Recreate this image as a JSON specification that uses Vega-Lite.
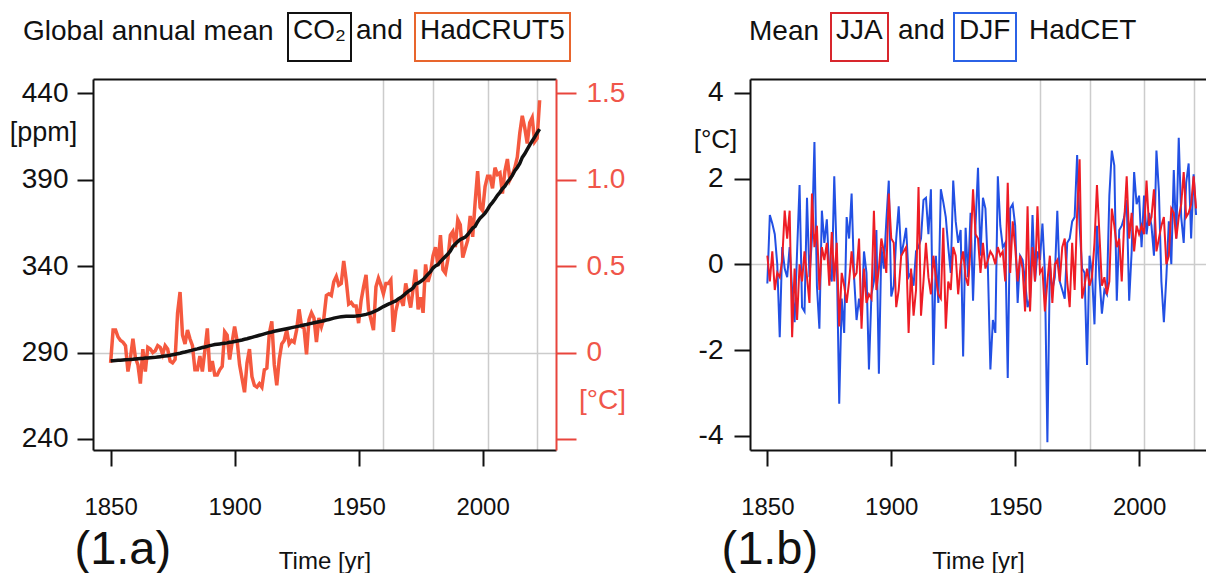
{
"$schema": "https://vega.github.io/schema/vega-lite/v6.json",
"background": "white",
"padding": {"left": 9, "top": 12, "right": 0, "bottom": 0},
"autosize": {"type": "pad"},
"config": {"font": "Liberation Sans", "view": {"stroke": null},
 "legend": {"title": null, "orient": "none", "legendY": -66, "padding": 5, "cornerRadius": 0, "labelFontSize": 28, "labelColor": "#111", "labelOffset": -38, "labelLimit": 500, "symbolType": "M0,-1L0,1", "symbolSize": 1444, "symbolStrokeWidth": 0, "symbolOpacity": 0}},
"spacing": 194,
"bounds": "flush",
"resolve": {"scale": {"stroke": "independent", "opacity": "independent"}, "legend": {"stroke": "independent", "opacity": "independent"}},
"hconcat": [
{
"width": 463, "height": 371,
"title": {"text": "Global annual mean", "anchor": "start", "frame": "group", "dx": -70, "fontSize": 28, "fontWeight": "normal", "color": "#111", "baseline": "alphabetic", "offset": -56},
"data": {"values": [
{"year":1850,"co2":285.2,"t":-0.06},{"year":1851,"co2":285.3,"t":0.13},{"year":1852,"co2":285.4,"t":0.13},{"year":1853,"co2":285.5,"t":0.09},{"year":1854,"co2":285.6,"t":0.07},{"year":1855,"co2":285.7,"t":0.06},{"year":1856,"co2":285.8,"t":0.04},{"year":1857,"co2":285.9,"t":-0.11},{"year":1858,"co2":286.0,"t":-0.03},{"year":1859,"co2":286.1,"t":0.08},
{"year":1860,"co2":286.3,"t":-0.03},{"year":1861,"co2":286.4,"t":-0.07},{"year":1862,"co2":286.5,"t":-0.18},{"year":1863,"co2":286.6,"t":0.02},{"year":1864,"co2":286.8,"t":-0.11},{"year":1865,"co2":286.9,"t":0.03},{"year":1866,"co2":287.0,"t":0.02},{"year":1867,"co2":287.1,"t":0.00},{"year":1868,"co2":287.2,"t":0.01},{"year":1869,"co2":287.4,"t":0.04},
{"year":1870,"co2":287.6,"t":0.03},{"year":1871,"co2":287.8,"t":-0.01},{"year":1872,"co2":288.0,"t":0.04},{"year":1873,"co2":288.2,"t":0.02},{"year":1874,"co2":288.4,"t":-0.05},{"year":1875,"co2":288.7,"t":-0.06},{"year":1876,"co2":289.0,"t":-0.04},{"year":1877,"co2":289.3,"t":0.23},{"year":1878,"co2":289.6,"t":0.35},{"year":1879,"co2":290.0,"t":0.10},
{"year":1880,"co2":290.3,"t":0.05},{"year":1881,"co2":290.7,"t":0.13},{"year":1882,"co2":291.0,"t":0.08},{"year":1883,"co2":291.4,"t":0.04},{"year":1884,"co2":291.8,"t":-0.10},{"year":1885,"co2":292.1,"t":-0.10},{"year":1886,"co2":292.5,"t":-0.02},{"year":1887,"co2":292.9,"t":-0.11},{"year":1888,"co2":293.2,"t":0.01},{"year":1889,"co2":293.6,"t":0.14},
{"year":1890,"co2":294.0,"t":-0.11},{"year":1891,"co2":294.3,"t":-0.05},{"year":1892,"co2":294.6,"t":-0.13},{"year":1893,"co2":294.8,"t":-0.13},{"year":1894,"co2":295.0,"t":-0.10},{"year":1895,"co2":295.2,"t":-0.08},{"year":1896,"co2":295.4,"t":0.12},{"year":1897,"co2":295.6,"t":0.10},{"year":1898,"co2":295.9,"t":-0.04},{"year":1899,"co2":296.1,"t":0.06},
{"year":1900,"co2":296.4,"t":0.15},{"year":1901,"co2":296.7,"t":0.07},{"year":1902,"co2":297.0,"t":-0.07},{"year":1903,"co2":297.3,"t":-0.15},{"year":1904,"co2":297.7,"t":-0.23},{"year":1905,"co2":298.0,"t":-0.06},{"year":1906,"co2":298.4,"t":0.02},{"year":1907,"co2":298.8,"t":-0.14},{"year":1908,"co2":299.2,"t":-0.19},{"year":1909,"co2":299.6,"t":-0.20},
{"year":1910,"co2":300.0,"t":-0.18},{"year":1911,"co2":300.4,"t":-0.20},{"year":1912,"co2":300.8,"t":-0.10},{"year":1913,"co2":301.2,"t":-0.09},{"year":1914,"co2":301.6,"t":0.11},{"year":1915,"co2":301.9,"t":0.18},{"year":1916,"co2":302.3,"t":-0.07},{"year":1917,"co2":302.6,"t":-0.19},{"year":1918,"co2":302.9,"t":-0.04},{"year":1919,"co2":303.2,"t":0.05},
{"year":1920,"co2":303.5,"t":0.07},{"year":1921,"co2":303.8,"t":0.13},{"year":1922,"co2":304.1,"t":0.05},{"year":1923,"co2":304.4,"t":0.07},{"year":1924,"co2":304.7,"t":0.06},{"year":1925,"co2":305.0,"t":0.13},{"year":1926,"co2":305.3,"t":0.25},{"year":1927,"co2":305.6,"t":0.15},{"year":1928,"co2":305.9,"t":0.14},{"year":1929,"co2":306.2,"t":-0.01},
{"year":1930,"co2":306.6,"t":0.19},{"year":1931,"co2":306.9,"t":0.23},{"year":1932,"co2":307.2,"t":0.20},{"year":1933,"co2":307.5,"t":0.06},{"year":1934,"co2":307.8,"t":0.20},{"year":1935,"co2":308.1,"t":0.15},{"year":1936,"co2":308.4,"t":0.20},{"year":1937,"co2":308.8,"t":0.33},{"year":1938,"co2":309.1,"t":0.34},{"year":1939,"co2":309.5,"t":0.33},
{"year":1940,"co2":309.9,"t":0.41},{"year":1941,"co2":310.2,"t":0.44},{"year":1942,"co2":310.5,"t":0.39},{"year":1943,"co2":310.7,"t":0.40},{"year":1944,"co2":310.9,"t":0.53},{"year":1945,"co2":311.0,"t":0.42},{"year":1946,"co2":311.0,"t":0.28},{"year":1947,"co2":311.0,"t":0.29},{"year":1948,"co2":311.0,"t":0.27},{"year":1949,"co2":311.1,"t":0.27},
{"year":1950,"co2":311.3,"t":0.17},{"year":1951,"co2":311.5,"t":0.30},{"year":1952,"co2":311.8,"t":0.38},{"year":1953,"co2":312.1,"t":0.45},{"year":1954,"co2":312.5,"t":0.25},{"year":1955,"co2":313.0,"t":0.19},{"year":1956,"co2":313.6,"t":0.13},{"year":1957,"co2":314.2,"t":0.38},{"year":1958,"co2":314.9,"t":0.43},{"year":1959,"co2":315.8,"t":0.39},
{"year":1960,"co2":316.6,"t":0.34},{"year":1961,"co2":317.3,"t":0.40},{"year":1962,"co2":318.0,"t":0.40},{"year":1963,"co2":318.6,"t":0.42},{"year":1964,"co2":319.3,"t":0.12},{"year":1965,"co2":319.9,"t":0.24},{"year":1966,"co2":321.0,"t":0.30},{"year":1967,"co2":321.8,"t":0.31},{"year":1968,"co2":322.9,"t":0.27},{"year":1969,"co2":324.2,"t":0.40},
{"year":1970,"co2":325.4,"t":0.33},{"year":1971,"co2":326.3,"t":0.26},{"year":1972,"co2":327.5,"t":0.37},{"year":1973,"co2":329.7,"t":0.48},{"year":1974,"co2":330.2,"t":0.25},{"year":1975,"co2":331.1,"t":0.32},{"year":1976,"co2":332.1,"t":0.23},{"year":1977,"co2":333.8,"t":0.51},{"year":1978,"co2":335.4,"t":0.41},{"year":1979,"co2":336.8,"t":0.46},
{"year":1980,"co2":338.9,"t":0.56},{"year":1981,"co2":340.1,"t":0.61},{"year":1982,"co2":340.9,"t":0.50},{"year":1983,"co2":342.6,"t":0.68},{"year":1984,"co2":344.1,"t":0.48},{"year":1985,"co2":345.6,"t":0.46},{"year":1986,"co2":347.0,"t":0.54},{"year":1987,"co2":348.8,"t":0.68},{"year":1988,"co2":351.3,"t":0.70},{"year":1989,"co2":352.8,"t":0.61},
{"year":1990,"co2":354.2,"t":0.77},{"year":1991,"co2":355.4,"t":0.74},{"year":1992,"co2":356.1,"t":0.55},{"year":1993,"co2":356.8,"t":0.60},{"year":1994,"co2":358.3,"t":0.65},{"year":1995,"co2":360.2,"t":0.79},{"year":1996,"co2":362.0,"t":0.67},{"year":1997,"co2":363.0,"t":0.87},{"year":1998,"co2":365.7,"t":1.05},{"year":1999,"co2":367.8,"t":0.84},
{"year":2000,"co2":369.1,"t":0.82},{"year":2001,"co2":370.7,"t":0.96},{"year":2002,"co2":372.8,"t":1.02},{"year":2003,"co2":375.2,"t":1.02},{"year":2004,"co2":376.9,"t":0.95},{"year":2005,"co2":378.9,"t":1.07},{"year":2006,"co2":381.0,"t":1.03},{"year":2007,"co2":382.7,"t":1.04},{"year":2008,"co2":384.8,"t":0.92},{"year":2009,"co2":386.3,"t":1.05},
{"year":2010,"co2":388.6,"t":1.12},{"year":2011,"co2":390.4,"t":1.00},{"year":2012,"co2":392.5,"t":1.03},{"year":2013,"co2":395.2,"t":1.07},{"year":2014,"co2":397.1,"t":1.13},{"year":2015,"co2":399.4,"t":1.27},{"year":2016,"co2":402.9,"t":1.37},{"year":2017,"co2":405.0,"t":1.30},{"year":2018,"co2":407.6,"t":1.21},{"year":2019,"co2":410.1,"t":1.33},
{"year":2020,"co2":412.4,"t":1.36},{"year":2021,"co2":414.7,"t":1.22},{"year":2022,"co2":417.1,"t":1.24},{"year":2023,"co2":419.3,"t":1.46}
]},
"layer": [
{
"mark": {"type": "line", "strokeWidth": 3.5},
"encoding": {
"x": {"field": "year", "type": "quantitative", "scale": {"domain": [1842.9, 2029.6], "nice": false, "zero": false},
 "axis": {"orient": "top", "values": [1960, 1980, 2002, 2022], "grid": true, "gridColor": "#cccccc", "gridWidth": 1.5, "ticks": false, "labels": false, "domainColor": "#111", "domainWidth": 2, "title": "(1.a)", "titleFontSize": 47, "titleFontWeight": "normal", "titleColor": "#111", "titleX": -19, "titleY": 484, "titleAlign": "left", "titleBaseline": "alphabetic", "titleAngle": 0}},
"y": {"field": "t", "type": "quantitative", "scale": {"domain": [-0.564, 1.583], "nice": false, "zero": false},
 "axis": {"orient": "right", "values": [-0.5, 0, 0.5, 1, 1.5], "labelExpr": "datum.value < 0 ? '' : (datum.value == 0 ? '0' : format(datum.value, '.1f'))", "grid": true, "gridColor": "#cccccc", "gridWidth": 1.5, "gridOpacity": {"condition": {"test": "datum.value == 0", "value": 1}, "value": 0}, "domainColor": "#e8453c", "domainWidth": 2, "tickColor": "#e8453c", "tickWidth": 2, "tickSize": 20, "labelFontSize": 28, "labelColor": "#f0564a", "labelPadding": 10, "labelFlush": false, "labelOverlap": false, "title": "[°C]", "titleFontSize": 28, "titleFontWeight": "normal", "titleColor": "#f0564a", "titleAngle": 0, "titleX": 46, "titleY": 321, "titleAlign": "center", "titleBaseline": "middle"}},
"stroke": {"datum": "HadCRUT5", "scale": {"range": ["#f5593f"]},
 "legend": {"legendX": 322, "strokeColor": "#e8652d", "encode": {"legend": {"update": {"strokeWidth": {"value": 2}}}, "labels": {"update": {"dy": {"value": -6}}}}}},
"opacity": {"datum": "and", "type": "ordinal", "scale": {"range": [1]},
 "legend": {"legendX": 263, "legendY": -63, "padding": 0, "symbolSize": 900, "labelOffset": -30}}
}
},
{
"mark": {"type": "line", "strokeWidth": 3.5},
"encoding": {
"x": {"field": "year", "type": "quantitative", "scale": {"domain": [1842.9, 2029.6], "nice": false, "zero": false},
 "axis": {"orient": "bottom", "values": [1850, 1900, 1950, 2000], "grid": false, "domainColor": "#111", "domainWidth": 2, "tickColor": "#111", "tickWidth": 2, "tickSize": 16, "labelFontSize": 24, "labelColor": "#111", "labelPadding": 29, "labelFlush": false, "labelOverlap": false, "format": "d", "title": "Time [yr]", "titleFontSize": 24, "titleFontWeight": "normal", "titleColor": "#111", "titleY": 118, "titleBaseline": "alphabetic"}},
"y": {"field": "co2", "type": "quantitative", "scale": {"domain": [233.6, 448.3], "nice": false, "zero": false},
 "axis": {"orient": "left", "values": [240, 290, 340, 390, 440], "grid": false, "domainColor": "#111", "domainWidth": 2, "tickColor": "#111", "tickWidth": 2, "tickSize": 16, "labelFontSize": 28, "labelColor": "#111", "labelPadding": 9, "labelFlush": false, "labelOverlap": false, "title": "[ppm]", "titleFontSize": 27, "titleFontWeight": "normal", "titleColor": "#111", "titleAngle": 0, "titleX": -50, "titleY": 53, "titleAlign": "center", "titleBaseline": "middle"}},
"stroke": {"datum": "CO₂", "scale": {"range": ["#111111"]},
 "legend": {"legendX": 195, "strokeColor": "#111", "encode": {"legend": {"update": {"strokeWidth": {"value": 2}}}, "labels": {"update": {"dy": {"value": -6}}}}}}
}
}
],
"resolve": {"scale": {"y": "independent", "stroke": "independent", "opacity": "independent"}, "axis": {"x": "independent", "y": "independent"}, "legend": {"stroke": "independent", "opacity": "independent"}}
},
{
"width": 456, "height": 371,
"title": {"text": "Mean", "anchor": "start", "frame": "group", "dx": -1, "fontSize": 28, "fontWeight": "normal", "color": "#111", "baseline": "alphabetic", "offset": -56},
"data": {"values": [
{"year":1850,"jja":0.2,"djf":-0.45},{"year":1851,"jja":-0.4,"djf":1.15},{"year":1852,"jja":0.3,"djf":0.95},{"year":1853,"jja":-0.6,"djf":0.7},{"year":1854,"jja":-0.2,"djf":0.0},{"year":1855,"jja":-0.3,"djf":-1.7},{"year":1856,"jja":0.1,"djf":0.4},{"year":1857,"jja":1.25,"djf":-0.1},{"year":1858,"jja":0.6,"djf":-0.3},{"year":1859,"jja":1.25,"djf":0.4},
{"year":1860,"jja":-1.7,"djf":-0.6},{"year":1861,"jja":-0.1,"djf":-1.35},{"year":1862,"jja":-1.3,"djf":0.3},{"year":1863,"jja":0.0,"djf":1.85},{"year":1864,"jja":-0.4,"djf":-1.0},{"year":1865,"jja":0.3,"djf":-1.1},{"year":1866,"jja":-0.3,"djf":1.55},{"year":1867,"jja":-0.9,"djf":-0.3},{"year":1868,"jja":1.65,"djf":0.6},{"year":1869,"jja":0.4,"djf":2.85},
{"year":1870,"jja":0.9,"djf":-0.5},{"year":1871,"jja":-0.6,"djf":-1.5},{"year":1872,"jja":0.4,"djf":1.25},{"year":1873,"jja":0.1,"djf":0.5},{"year":1874,"jja":0.5,"djf":1.05},{"year":1875,"jja":-0.5,"djf":-0.2},{"year":1876,"jja":0.75,"djf":-0.4},{"year":1877,"jja":-0.4,"djf":2.05},{"year":1878,"jja":0.5,"djf":0.2},{"year":1879,"jja":-1.45,"djf":-3.25},
{"year":1880,"jja":-0.2,"djf":-0.8},{"year":1881,"jja":-0.5,"djf":-1.6},{"year":1882,"jja":-0.9,"djf":1.1},{"year":1883,"jja":-0.4,"djf":0.6},{"year":1884,"jja":0.3,"djf":1.65},{"year":1885,"jja":-0.3,"djf":-0.3},{"year":1886,"jja":-0.2,"djf":-1.3},{"year":1887,"jja":0.6,"djf":-0.8},{"year":1888,"jja":-1.5,"djf":-1.2},{"year":1889,"jja":-0.1,"djf":0.3},
{"year":1890,"jja":-0.9,"djf":-0.2},{"year":1891,"jja":-0.7,"djf":-2.45},{"year":1892,"jja":-0.8,"djf":-0.7},{"year":1893,"jja":1.25,"djf":-0.4},{"year":1894,"jja":-0.6,"djf":0.8},{"year":1895,"jja":-0.1,"djf":-2.55},{"year":1896,"jja":0.6,"djf":0.4},{"year":1897,"jja":0.3,"djf":-0.1},{"year":1898,"jja":-0.2,"djf":1.0},{"year":1899,"jja":1.65,"djf":1.95},
{"year":1900,"jja":0.6,"djf":-0.75},{"year":1901,"jja":0.5,"djf":-0.5},{"year":1902,"jja":-1.0,"djf":0.6},{"year":1903,"jja":-0.6,"djf":1.35},{"year":1904,"jja":0.2,"djf":0.2},{"year":1905,"jja":0.3,"djf":0.5},{"year":1906,"jja":0.4,"djf":0.85},{"year":1907,"jja":-1.6,"djf":-0.3},{"year":1908,"jja":-0.1,"djf":-0.2},{"year":1909,"jja":-1.2,"djf":-0.5},
{"year":1910,"jja":-0.6,"djf":0.3},{"year":1911,"jja":1.8,"djf":0.4},{"year":1912,"jja":-1.2,"djf":0.6},{"year":1913,"jja":-0.4,"djf":1.5},{"year":1914,"jja":0.5,"djf":1.55},{"year":1915,"jja":-0.3,"djf":0.7},{"year":1916,"jja":-0.7,"djf":1.75},{"year":1917,"jja":0.2,"djf":-2.35},{"year":1918,"jja":-0.3,"djf":0.2},{"year":1919,"jja":-0.7,"djf":-0.9},
{"year":1920,"jja":-0.8,"djf":1.75},{"year":1921,"jja":0.85,"djf":1.45},{"year":1922,"jja":-1.5,"djf":1.1},{"year":1923,"jja":-0.4,"djf":0.4},{"year":1924,"jja":-0.6,"djf":-0.2},{"year":1925,"jja":0.4,"djf":1.95},{"year":1926,"jja":0.2,"djf":1.0},{"year":1927,"jja":-0.7,"djf":0.5},{"year":1928,"jja":0.0,"djf":0.8},{"year":1929,"jja":0.3,"djf":-2.15},
{"year":1930,"jja":-0.3,"djf":0.85},{"year":1931,"jja":-0.5,"djf":-0.3},{"year":1932,"jja":0.4,"djf":1.2},{"year":1933,"jja":1.75,"djf":-0.85},{"year":1934,"jja":0.7,"djf":0.9},{"year":1935,"jja":0.6,"djf":2.25},{"year":1936,"jja":-0.2,"djf":0.2},{"year":1937,"jja":0.5,"djf":1.55},{"year":1938,"jja":-0.1,"djf":1.3},{"year":1939,"jja":0.1,"djf":-0.1},
{"year":1940,"jja":0.3,"djf":-2.45},{"year":1941,"jja":0.2,"djf":-1.3},{"year":1942,"jja":0.0,"djf":-1.6},{"year":1943,"jja":0.4,"djf":2.05},{"year":1944,"jja":0.2,"djf":0.9},{"year":1945,"jja":0.3,"djf":0.4},{"year":1946,"jja":-0.4,"djf":0.5},{"year":1947,"jja":1.9,"djf":-2.65},{"year":1948,"jja":-0.2,"djf":1.3},{"year":1949,"jja":1.0,"djf":1.4},
{"year":1950,"jja":0.4,"djf":0.9},{"year":1951,"jja":-0.4,"djf":-0.9},{"year":1952,"jja":0.2,"djf":0.2},{"year":1953,"jja":-0.1,"djf":0.1},{"year":1954,"jja":-1.1,"djf":-0.4},{"year":1955,"jja":1.35,"djf":-1.0},{"year":1956,"jja":-1.1,"djf":-0.8},{"year":1957,"jja":0.4,"djf":1.15},{"year":1958,"jja":-0.4,"djf":-0.4},{"year":1959,"jja":1.35,"djf":0.3},
{"year":1960,"jja":-0.2,"djf":0.1},{"year":1961,"jja":-0.1,"djf":0.95},{"year":1962,"jja":-1.1,"djf":-0.2},{"year":1963,"jja":-0.4,"djf":-4.15},{"year":1964,"jja":0.2,"djf":0.0},{"year":1965,"jja":-0.9,"djf":-0.6},{"year":1966,"jja":0.0,"djf":-0.3},{"year":1967,"jja":0.1,"djf":1.25},{"year":1968,"jja":-0.4,"djf":-0.4},{"year":1969,"jja":0.4,"djf":-0.6},
{"year":1970,"jja":0.6,"djf":-0.8},{"year":1971,"jja":-0.4,"djf":0.5},{"year":1972,"jja":-1.0,"djf":0.6},{"year":1973,"jja":0.5,"djf":1.0},{"year":1974,"jja":-0.6,"djf":1.1},{"year":1975,"jja":1.2,"djf":2.55},{"year":1976,"jja":2.45,"djf":0.9},{"year":1977,"jja":-0.8,"djf":-0.1},{"year":1978,"jja":-0.5,"djf":-0.2},{"year":1979,"jja":-0.1,"djf":-2.35},
{"year":1980,"jja":-0.5,"djf":0.2},{"year":1981,"jja":-0.3,"djf":-0.2},{"year":1982,"jja":0.5,"djf":-1.4},{"year":1983,"jja":1.85,"djf":0.9},{"year":1984,"jja":0.7,"djf":-0.3},{"year":1985,"jja":-0.5,"djf":-1.15},{"year":1986,"jja":-0.3,"djf":-0.6},{"year":1987,"jja":-0.7,"djf":-0.7},{"year":1988,"jja":-0.4,"djf":1.6},{"year":1989,"jja":1.3,"djf":2.65},
{"year":1990,"jja":0.9,"djf":2.3},{"year":1991,"jja":0.4,"djf":-0.85},{"year":1992,"jja":0.6,"djf":0.8},{"year":1993,"jja":-0.4,"djf":0.9},{"year":1994,"jja":1.0,"djf":1.1},{"year":1995,"jja":2.05,"djf":1.5},{"year":1996,"jja":0.6,"djf":-0.85},{"year":1997,"jja":1.2,"djf":0.3},{"year":1998,"jja":0.3,"djf":2.15},{"year":1999,"jja":0.9,"djf":1.4},
{"year":2000,"jja":0.7,"djf":1.6},{"year":2001,"jja":0.9,"djf":0.4},{"year":2002,"jja":0.7,"djf":1.6},{"year":2003,"jja":1.95,"djf":0.7},{"year":2004,"jja":0.9,"djf":1.2},{"year":2005,"jja":1.1,"djf":0.9},{"year":2006,"jja":1.75,"djf":0.2},{"year":2007,"jja":0.3,"djf":2.65},{"year":2008,"jja":0.6,"djf":1.7},{"year":2009,"jja":0.9,"djf":-0.4},
{"year":2010,"jja":1.1,"djf":-1.35},{"year":2011,"jja":0.0,"djf":-0.3},{"year":2012,"jja":0.2,"djf":1.0},{"year":2013,"jja":1.3,"djf":0.0},{"year":2014,"jja":1.2,"djf":2.2},{"year":2015,"jja":0.6,"djf":0.6},{"year":2016,"jja":1.1,"djf":2.95},{"year":2017,"jja":1.4,"djf":1.1},{"year":2018,"jja":2.15,"djf":0.5},{"year":2019,"jja":1.1,"djf":1.9},
{"year":2020,"jja":1.2,"djf":2.35},{"year":2021,"jja":1.4,"djf":0.6},{"year":2022,"jja":2.05,"djf":2.1},{"year":2023,"jja":1.3,"djf":1.15}
]},
"layer": [
{
"mark": {"type": "line", "strokeWidth": 2},
"encoding": {
"x": {"field": "year", "type": "quantitative", "scale": {"domain": [1843.0, 2027.0], "nice": false, "zero": false},
 "axis": {"orient": "top", "values": [1960, 1980, 2002, 2022], "grid": true, "gridColor": "#cccccc", "gridWidth": 1.5, "ticks": false, "labels": false, "domainColor": "#111", "domainWidth": 2, "title": "(1.b)", "titleFontSize": 47, "titleFontWeight": "normal", "titleColor": "#111", "titleX": -29, "titleY": 484, "titleAlign": "left", "titleBaseline": "alphabetic", "titleAngle": 0}},
"y": {"field": "djf", "type": "quantitative", "scale": {"domain": [-4.33, 4.32], "nice": false, "zero": false},
 "axis": {"orient": "left", "values": [-4, -2, 0, 2, 4], "labelExpr": "'' + datum.value", "grid": true, "gridColor": "#cccccc", "gridWidth": 1.5, "gridOpacity": {"condition": {"test": "datum.value == 0", "value": 1}, "value": 0}, "domainColor": "#111", "domainWidth": 2, "tickColor": "#111", "tickWidth": 2, "tickSize": 16, "labelFontSize": 28, "labelColor": "#111", "labelPadding": 11, "labelFlush": false, "labelOverlap": false, "title": "[°C]", "titleFontSize": 26, "titleFontWeight": "normal", "titleColor": "#111", "titleAngle": 0, "titleX": -35, "titleY": 60, "titleAlign": "center", "titleBaseline": "middle"}},
"stroke": {"datum": "DJF", "scale": {"range": ["#2250e4"]},
 "legend": {"legendX": 204, "strokeColor": "#2b62e6", "encode": {"legend": {"update": {"strokeWidth": {"value": 2}}}, "labels": {"update": {"dy": {"value": -6}}}}}},
"opacity": {"datum": "HadCET", "type": "ordinal", "scale": {"range": [1]},
 "legend": {"legendX": 279, "legendY": -63, "padding": 0, "symbolSize": 900, "labelOffset": -30}}
}
},
{
"mark": {"type": "line", "strokeWidth": 2},
"encoding": {
"x": {"field": "year", "type": "quantitative", "scale": {"domain": [1843.0, 2027.0], "nice": false, "zero": false},
 "axis": {"orient": "bottom", "values": [1850, 1900, 1950, 2000], "grid": false, "domainColor": "#111", "domainWidth": 2, "tickColor": "#111", "tickWidth": 2, "tickSize": 16, "labelFontSize": 24, "labelColor": "#111", "labelPadding": 29, "labelFlush": false, "labelOverlap": false, "format": "d", "title": "Time [yr]", "titleFontSize": 24, "titleFontWeight": "normal", "titleColor": "#111", "titleY": 118, "titleBaseline": "alphabetic"}},
"y": {"field": "jja", "type": "quantitative", "scale": {"domain": [-4.33, 4.32], "nice": false, "zero": false},
 "axis": {"orient": "left", "values": [-4, -2, 0, 2, 4], "labelExpr": "'' + datum.value", "grid": true, "gridColor": "#cccccc", "gridWidth": 1.5, "gridOpacity": {"condition": {"test": "datum.value == 0", "value": 1}, "value": 0}, "domainColor": "#111", "domainWidth": 2, "tickColor": "#111", "tickWidth": 2, "tickSize": 16, "labelFontSize": 28, "labelColor": "#111", "labelPadding": 11, "labelFlush": false, "labelOverlap": false, "title": "[°C]", "titleFontSize": 26, "titleFontWeight": "normal", "titleColor": "#111", "titleAngle": 0, "titleX": -35, "titleY": 60, "titleAlign": "center", "titleBaseline": "middle"}},
"stroke": {"datum": "JJA", "scale": {"range": ["#ee1c25"]},
 "legend": {"legendX": 81, "strokeColor": "#d8262d", "encode": {"legend": {"update": {"strokeWidth": {"value": 2}}}, "labels": {"update": {"dy": {"value": -6}}}}}},
"opacity": {"datum": "and", "type": "ordinal", "scale": {"range": [1]},
 "legend": {"legendX": 148, "legendY": -63, "padding": 0, "symbolSize": 900, "labelOffset": -30}}
}
}
],
"resolve": {"scale": {"stroke": "independent", "opacity": "independent"}, "axis": {"x": "independent"}, "legend": {"stroke": "independent", "opacity": "independent"}}
}
]
}
